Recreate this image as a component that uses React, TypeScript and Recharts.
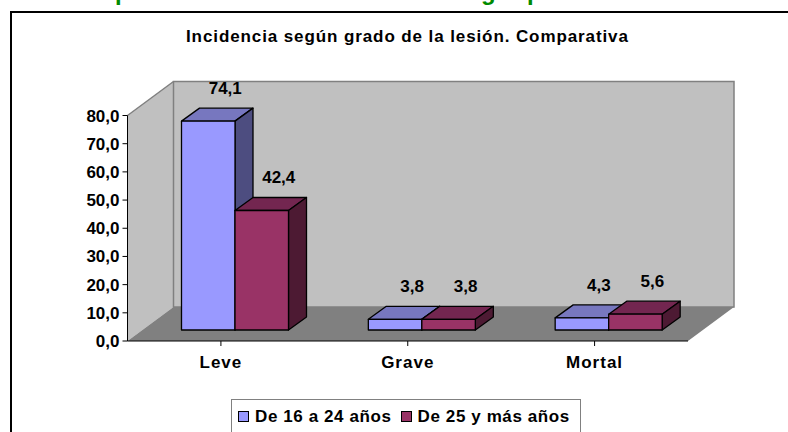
import { BarChart, Bar, XAxis, YAxis, ReferenceArea, LabelList } from "recharts";

const categories = ["Leve", "Grave", "Mortal"];
const youngValues = [74.1, 3.8, 4.3];
const olderValues = [42.4, 3.8, 5.6];
const seriesNames = ["De 16 a 24 años", "De 25 y más años"];
const yTicks = [0, 10, 20, 30, 40, 50, 60, 70, 80];

const chartData = categories.map((name, i) => ({
  name,
  young: youngValues[i],
  older: olderValues[i],
}));

const FONT = '"Liberation Sans", Arial, sans-serif';

// fake 3D: room depth, bar depth and how far bars sit inside the room
const ROOM_DX = 46;
const ROOM_DY = 34;
const BAR_DX = 18;
const BAR_DY = 13;
const SHIFT_X = 14;
const SHIFT_Y = 11;

const BLUE = { front: "#9999ff", top: "#7777bf", side: "#4d4d80" };
const WINE = { front: "#993366", top: "#732650", side: "#4d1a33" };

const fmt = (v: number) => v.toFixed(1).replace(".", ",");

function Room({ x, y, width, height }: any) {
  const b = y + height;
  const r = x + width;
  return (
    <g>
      <polygon
        points={`${x},${y} ${x + ROOM_DX},${y - ROOM_DY} ${x + ROOM_DX},${b - ROOM_DY} ${x},${b}`}
        fill="#c0c0c0"
      />
      <rect
        x={x + ROOM_DX}
        y={y - ROOM_DY}
        width={width}
        height={height}
        fill="#c0c0c0"
        stroke="#808080"
        strokeWidth={1.5}
      />
      <polygon
        points={`${x},${b} ${x + ROOM_DX},${b - ROOM_DY} ${r + ROOM_DX},${b - ROOM_DY} ${r},${b}`}
        fill="#808080"
      />
      <line x1={x} y1={y} x2={x + ROOM_DX} y2={y - ROOM_DY} stroke="#808080" strokeWidth={1.5} />
    </g>
  );
}

function Bar3D({ x, y, width, height, colors }: any) {
  const l = x + SHIFT_X;
  const t = y - SHIFT_Y;
  const r = l + width;
  const b = t + height;
  const line = { stroke: "#000", strokeWidth: 1.3, strokeLinejoin: "round" as const };
  return (
    <g>
      <polygon
        points={`${l},${t} ${l + BAR_DX},${t - BAR_DY} ${r + BAR_DX},${t - BAR_DY} ${r},${t}`}
        fill={colors.top}
        {...line}
      />
      <polygon
        points={`${r},${t} ${r + BAR_DX},${t - BAR_DY} ${r + BAR_DX},${b - BAR_DY} ${r},${b}`}
        fill={colors.side}
        {...line}
      />
      <rect x={l} y={t} width={width} height={height} fill={colors.front} {...line} />
    </g>
  );
}

function BarValue({ x, y, width, value }: any) {
  return (
    <text
      x={x + width / 2 + 17 + SHIFT_X}
      y={y - 38}
      textAnchor="middle"
      fontFamily={FONT}
      fontWeight="bold"
      fontSize={17}
      fill="#000"
    >
      {fmt(value)}
    </text>
  );
}

function Swatch({ color }: { color: string }) {
  return (
    <span
      style={{
        display: "inline-block",
        width: 9,
        height: 9,
        background: color,
        border: "1px solid #000",
        marginRight: 6,
      }}
    />
  );
}

export default function App() {
  return (
    <div
      style={{
        position: "absolute",
        left: 0,
        top: 0,
        width: 788,
        height: 432,
        overflow: "hidden",
        background: "#fff",
        fontFamily: FONT,
      }}
    >
      {/* descenders of the page heading, cut off by the crop */}
      <div style={{ position: "absolute", left: 0, top: -22, color: "#008a00", fontSize: 24, fontWeight: "bold" }}>
        <span style={{ position: "absolute", left: 115 }}>p</span>
        <span style={{ position: "absolute", left: 481 }}>g</span>
        <span style={{ position: "absolute", left: 527 }}>p</span>
      </div>
      <div
        style={{
          position: "absolute",
          left: 10,
          top: 11,
          width: 800,
          height: 440,
          borderTop: "2px solid #000",
          borderLeft: "2px solid #000",
        }}
      />
      <BarChart
        width={788}
        height={432}
        data={chartData}
        margin={{ top: 115.5, left: 67.5, right: 100, bottom: 61 }}
        barSize={53.5}
        barGap={0}
        style={{ position: "absolute", left: 0, top: 0 }}
      >
        <ReferenceArea yAxisId={0} y1={0} y2={80} shape={Room} ifOverflow="visible" />
        <XAxis
          dataKey="name"
          height={30}
          tickSize={5}
          tickMargin={10}
          axisLine={{ stroke: "#000" }}
          tickLine={{ stroke: "#000" }}
          tick={{ fontSize: 17, fontWeight: "bold", fill: "#000", fontFamily: FONT, letterSpacing: 1 }}
        />
        <YAxis
          width={60}
          domain={[0, 80]}
          ticks={yTicks}
          interval={0}
          tickSize={5}
          tickMargin={3}
          tickFormatter={fmt}
          axisLine={{ stroke: "#000" }}
          tickLine={{ stroke: "#000" }}
          tick={{ fontSize: 17, fontWeight: "bold", fill: "#000", fontFamily: FONT }}
        />
        <Bar dataKey="young" isAnimationActive={false} shape={(p: any) => <Bar3D {...p} colors={BLUE} />}>
          <LabelList dataKey="young" content={BarValue} />
        </Bar>
        <Bar dataKey="older" isAnimationActive={false} shape={(p: any) => <Bar3D {...p} colors={WINE} />}>
          <LabelList dataKey="older" content={BarValue} />
        </Bar>
      </BarChart>
      <div
        style={{
          position: "absolute",
          left: 186,
          top: 27,
          whiteSpace: "nowrap",
          fontSize: 17,
          fontWeight: "bold",
          letterSpacing: 0.9,
        }}
      >
        Incidencia según grado de la lesión. Comparativa
      </div>
      <div
        style={{
          position: "absolute",
          left: 231,
          top: 399,
          width: 350,
          height: 50,
          border: "1px solid #808080",
          boxSizing: "border-box",
          fontSize: 17,
          fontWeight: "bold",
          letterSpacing: 0.6,
          paddingLeft: 6,
          paddingTop: 7,
          whiteSpace: "nowrap",
        }}
      >
        <Swatch color={BLUE.front} />
        <span style={{ marginRight: 9 }}>{seriesNames[0]}</span>
        <Swatch color={WINE.front} />
        <span>{seriesNames[1]}</span>
      </div>
    </div>
  );
}
